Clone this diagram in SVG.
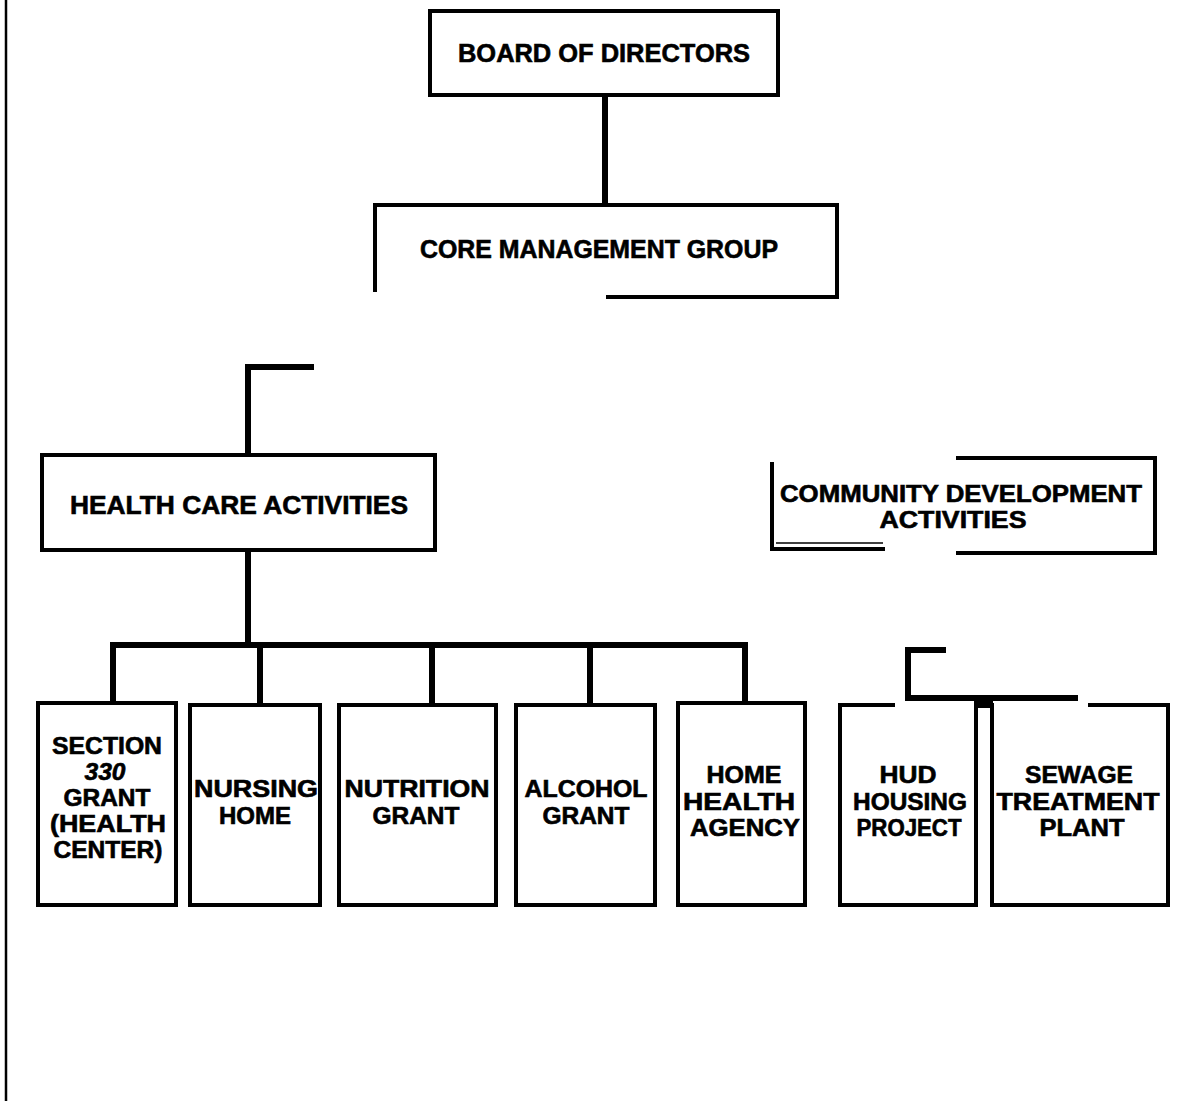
<svg xmlns="http://www.w3.org/2000/svg" width="1195" height="1101" viewBox="0 0 1195 1101">
<style>
.b{fill:none;stroke:#000;stroke-width:4;stroke-linecap:square}
.c{fill:none;stroke:#000;stroke-width:6;stroke-linecap:square}
text{font-family:"Liberation Sans",Arial,sans-serif;font-weight:bold;fill:#000;stroke:#000;stroke-width:0.6;text-anchor:middle}
.t1{font-size:25px}
.t2{font-size:23px}
</style>
<rect width="1195" height="1101" fill="#fff"/>
<line x1="6" y1="0" x2="6" y2="1101" stroke="#000" stroke-width="2.5"/>
<g id="connectors">
<line class="c" x1="605" y1="97" x2="605" y2="203"/>
<path class="c" d="M311 367 H248 V453"/>
<line class="c" x1="248" y1="552" x2="248" y2="645"/>
<path class="c" d="M113 701 V645 H745 V701"/>
<line class="c" x1="260" y1="645" x2="260" y2="701"/>
<line class="c" x1="432" y1="645" x2="432" y2="701"/>
<line class="c" x1="590" y1="645" x2="590" y2="701"/>
<path class="c" d="M943 650 H908 V698 H1075"/>
<rect x="976" y="696" width="17" height="12" fill="#000"/>
</g>
<g id="board">
<rect class="b" x="430" y="11" width="348" height="84"/>
<text class="t1" x="604" y="62" textLength="292" lengthAdjust="spacingAndGlyphs">BOARD OF DIRECTORS</text>
</g>
<g id="core">
<path class="b" d="M375 290 V205 H837 V297 H608"/>
<text class="t1" x="599" y="258" textLength="358" lengthAdjust="spacingAndGlyphs">CORE MANAGEMENT GROUP</text>
</g>
<g id="health">
<rect class="b" x="42" y="455" width="393" height="95"/>
<text class="t1" x="239" y="514" textLength="338" lengthAdjust="spacingAndGlyphs">HEALTH CARE ACTIVITIES</text>
</g>
<g id="community">
<path class="b" d="M958 458 H1155 V553 H958"/>
<path class="b" d="M772 464 V549 H883"/>
<line x1="776" y1="543" x2="883" y2="543" stroke="#000" stroke-width="1.5"/>
<text class="t2" x="961" y="502" textLength="362" lengthAdjust="spacingAndGlyphs">COMMUNITY DEVELOPMENT</text>
<text class="t2" x="953" y="528" textLength="147" lengthAdjust="spacingAndGlyphs">ACTIVITIES</text>
</g>
<g id="section330">
<rect class="b" x="38" y="703" width="138" height="202"/>
<text class="t2" x="107" y="754" textLength="110" lengthAdjust="spacingAndGlyphs">SECTION</text>
<text class="t2" x="105" y="780" textLength="41" lengthAdjust="spacingAndGlyphs" font-style="italic">330</text>
<text class="t2" x="107" y="806" textLength="87" lengthAdjust="spacingAndGlyphs">GRANT</text>
<text class="t2" x="108" y="832" textLength="116" lengthAdjust="spacingAndGlyphs">(HEALTH</text>
<text class="t2" x="108" y="858" textLength="109" lengthAdjust="spacingAndGlyphs">CENTER)</text>
</g>
<g id="nursing">
<rect class="b" x="190" y="705" width="130" height="200"/>
<text class="t2" x="256" y="797" textLength="124" lengthAdjust="spacingAndGlyphs">NURSING</text>
<text class="t2" x="255" y="824" textLength="72" lengthAdjust="spacingAndGlyphs">HOME</text>
</g>
<g id="nutrition">
<rect class="b" x="339" y="705" width="157" height="200"/>
<text class="t2" x="417" y="797" textLength="145" lengthAdjust="spacingAndGlyphs">NUTRITION</text>
<text class="t2" x="416" y="824" textLength="87" lengthAdjust="spacingAndGlyphs">GRANT</text>
</g>
<g id="alcohol">
<rect class="b" x="516" y="705" width="139" height="200"/>
<text class="t2" x="586" y="797" textLength="123" lengthAdjust="spacingAndGlyphs">ALCOHOL</text>
<text class="t2" x="586" y="824" textLength="87" lengthAdjust="spacingAndGlyphs">GRANT</text>
</g>
<g id="homehealth">
<rect class="b" x="678" y="703" width="127" height="202"/>
<text class="t2" x="744" y="783" textLength="75" lengthAdjust="spacingAndGlyphs">HOME</text>
<text class="t2" x="739" y="810" textLength="112" lengthAdjust="spacingAndGlyphs">HEALTH</text>
<text class="t2" x="745" y="836" textLength="110" lengthAdjust="spacingAndGlyphs">AGENCY</text>
</g>
<g id="hud">
<path class="b" d="M893 705 H840 V905 H976 V703"/>
<text class="t2" x="908" y="783" textLength="57" lengthAdjust="spacingAndGlyphs">HUD</text>
<text class="t2" x="910" y="810" textLength="114" lengthAdjust="spacingAndGlyphs">HOUSING</text>
<text class="t2" x="909" y="836" textLength="105" lengthAdjust="spacingAndGlyphs">PROJECT</text>
</g>
<g id="sewage">
<path class="b" d="M1090 705 H1168 V905 H992 V705"/>
<text class="t2" x="1079" y="783" textLength="108" lengthAdjust="spacingAndGlyphs">SEWAGE</text>
<text class="t2" x="1078" y="810" textLength="163" lengthAdjust="spacingAndGlyphs">TREATMENT</text>
<text class="t2" x="1082" y="836" textLength="85" lengthAdjust="spacingAndGlyphs">PLANT</text>
</g>
</svg>
